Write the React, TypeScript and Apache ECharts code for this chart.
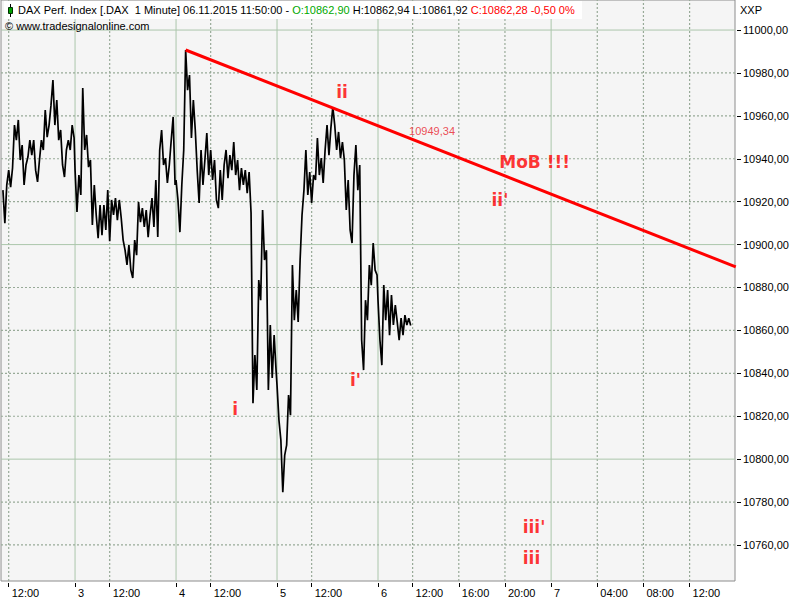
import React, { useEffect, useRef } from "react";
import * as echarts from "echarts";

// ---------- data ----------
// 10-minute samples of the 1-minute DAX trace (alternating swing extremes)
const nov2StartTime = "11:30";
const priceNov2 = [10925.4, 10910.0, 10927.8, 10934.7, 10926.8, 10935.7, 10955.7, 10948.7, 10958.1, 10939.4, 10946.4, 10927.8, 10937.1, 10940.8, 10948.7, 10941.7, 10948.7, 10934.7, 10929.2, 10939.4, 10948.7, 10944.1, 10962.7, 10950.1, 10955.7, 10965.0, 10976.7, 10955.7, 10967.4, 10948.7, 10953.4, 10937.1, 10931.5, 10944.1, 10948.7, 10944.1, 10955.7, 10949.7];
const priceNov3 = [10934.7, 10915.2, 10932.4, 10923.1, 10973.0, 10944.1, 10951.1, 10936.1, 10939.4, 10909.1, 10927.8, 10913.8, 10903.0, 10918.4, 10904.4, 10918.4, 10906.8, 10925.4, 10901.6, 10920.8, 10913.8, 10921.7, 10911.4, 10920.8, 10912.4, 10902.1, 10897.4, 10890.5, 10899.8, 10888.1, 10884.4, 10902.1, 10895.1, 10919.8, 10910.5, 10917.0, 10908.2, 10916.1, 10903.5, 10913.8, 10921.7, 10908.2, 10930.1, 10903.5, 10944.1, 10953.4, 10937.1, 10940.3, 10928.7, 10937.1, 10948.7, 10959.5, 10927.8];
const priceNov4 = [10930.1, 10920.8, 10905.8, 10927.8, 10944.1, 10990.7, 10972.0, 10979.0, 10949.7, 10967.4, 10953.4, 10934.7, 10919.4, 10944.1, 10927.8, 10939.4, 10952.0, 10932.4, 10944.1, 10930.1, 10939.4, 10920.8, 10917.0, 10934.7, 10920.8, 10937.1, 10944.1, 10931.0, 10941.7, 10934.7, 10947.8, 10932.4, 10939.4, 10925.4, 10935.7, 10927.8, 10934.7, 10924.0, 10933.8, 10914.7, 10826.1, 10848.5, 10832.2, 10883.5, 10874.1, 10916.1, 10892.8, 10897.4, 10832.2, 10862.5, 10837.8, 10857.8, 10841.5];
const priceNov5 = [10834.5, 10818.2, 10808.9, 10784.6, 10801.9, 10806.5, 10829.9, 10820.5, 10890.5, 10864.8, 10878.8, 10863.9, 10892.8, 10913.8, 10925.4, 10944.1, 10923.1, 10933.8, 10919.4, 10932.4, 10930.1, 10949.7, 10932.4, 10940.3, 10928.7, 10944.1, 10955.7, 10941.7, 10954.3, 10964.1, 10955.7, 10944.1, 10952.5, 10940.3, 10947.8, 10939.4, 10916.1, 10930.1, 10906.8, 10900.7, 10932.4, 10946.4, 10925.4, 10937.1, 10855.5, 10841.5, 10874.1, 10864.8, 10890.5, 10881.1, 10900.7, 10888.1, 10885.8];
const priceNov6 = [10874.1, 10855.5, 10843.8, 10881.1, 10864.8, 10878.8, 10857.8, 10876.5, 10862.5, 10871.8, 10863.9, 10855.5, 10865.7, 10857.8, 10867.1, 10862.5, 10865.7, 10862.3];

// trend line (start at the Nov 4 high, extended to the right edge)
const trendPoints = [
  { day: 4, time: "09:50", price: 10990.7 },
  { day: 7, time: "16:00", price: 10889.6 },
];
const trendValueLabel = { day: 6, time: "13:41", price: 10952.9, text: "10949,34" };

const annotations = [
  { day: 5, time: "14:38", price: 10971.3, text: "ii" },
  { day: 4, time: "14:07", price: 10823.6, text: "i" },
  { day: 5, time: "15:48", price: 10836.9, text: "i'" },
  { day: 6, time: "19:34", price: 10921.0, text: "ii'" },
  { day: 6, time: "22:34", price: 10938.3, text: "MoB !!!" },
  { day: 6, time: "22:31", price: 10768.2, text: "iii'" },
  { day: 6, time: "22:18", price: 10753.7, text: "iii" },
];

const xTicks = [
  { day: 2, time: "12:00", label: "12:00" },
  { day: 3, time: "09:00", label: "3" },
  { day: 3, time: "12:00", label: "12:00" },
  { day: 4, time: "09:00", label: "4" },
  { day: 4, time: "12:00", label: "12:00" },
  { day: 5, time: "09:00", label: "5" },
  { day: 5, time: "12:00", label: "12:00" },
  { day: 6, time: "09:00", label: "6" },
  { day: 6, time: "12:00", label: "12:00" },
  { day: 6, time: "16:00", label: "16:00" },
  { day: 6, time: "20:00", label: "20:00" },
  { day: 7, time: "00:00", label: "7" },
  { day: 7, time: "04:00", label: "04:00" },
  { day: 7, time: "08:00", label: "08:00" },
  { day: 7, time: "12:00", label: "12:00" },
];
const yTicks = [10760, 10780, 10800, 10820, 10840, 10860, 10880, 10900, 10920, 10940, 10960, 10980, 11000];
const ySolid = [10800, 10900, 11000];
const viewStart = { day: 2, time: "11:20" };
const viewEnd = { day: 7, time: "15:56" };
const yMin = 10743.2;
const yMax = 11014.0;

// ---------- time -> axis position (trading sessions 09:00-17:45 compressed, real time afterwards) ----------
function hrs(time: string) {
  const [h, m] = time.split(":").map(Number);
  return h + m / 60;
}
function toAxis(day: number, time: string) {
  const h = hrs(time);
  if (day >= 7) return 50 + h;
  return (day - 2) * 8.75 + (h - 9);
}

function buildPrice() {
  const pts: number[][] = [];
  const days: [number, number[], string][] = [
    [2, priceNov2, nov2StartTime],
    [3, priceNov3, "09:00"],
    [4, priceNov4, "09:00"],
    [5, priceNov5, "09:00"],
    [6, priceNov6, "09:00"],
  ];
  days.forEach(([d, arr, start]) => {
    const s = toAxis(d, start);
    arr.forEach((v, i) => pts.push([s + (i * 10) / 60, v]));
  });
  return pts;
}

const FONT = "'Liberation Sans', Arial, sans-serif";
const BOLD_FONT = "'DejaVu Sans', Verdana, sans-serif";

export default function App() {
  const ref = useRef<HTMLDivElement>(null);
  useEffect(() => {
    document.body.style.margin = "0";
    const chart = echarts.init(ref.current!, null, { renderer: "svg" });
    const xTickVals = xTicks.map((t) => toAxis(t.day, t.time));
    const xMin = toAxis(viewStart.day, viewStart.time);
    const xMax = toAxis(viewEnd.day, viewEnd.time);

    const solidStyle = { color: "#abc6ab", width: 1, type: "solid" };
    const dotStyle = { color: "#98aa98", width: 1.2, type: [2, 2] };

    const gridLineSeries: any[] = [];
    const addGridLine = (pts: number[][], style: any) =>
      gridLineSeries.push({
        type: "line",
        z: 1,
        silent: true,
        data: pts,
        showSymbol: false,
        lineStyle: style,
        emphasis: { disabled: true },
      });
    xTicks.forEach((t, i) =>
      addGridLine(
        [
          [xTickVals[i], yMin],
          [xTickVals[i], yMax],
        ],
        t.label.includes(":") ? dotStyle : solidStyle
      )
    );
    yTicks.forEach((v) =>
      addGridLine(
        [
          [xMin, v],
          [xMax, v],
        ],
        ySolid.includes(v) ? solidStyle : dotStyle
      )
    );

    const option: any = {
      animation: false,
      backgroundColor: "#ffffff",
      textStyle: { fontFamily: FONT },
      grid: {
        left: 1,
        right: 65,
        top: 0,
        bottom: 19,
        show: true,
        backgroundColor: "#f5f5f5",
        borderColor: "#8c8c8c",
        borderWidth: 1,
      },
      xAxis: {
        type: "value",
        min: xMin,
        max: xMax,
        offset: 2,
        axisLine: { show: false },
        splitLine: { show: false },
        axisTick: { show: true, length: 4, customValues: xTickVals, lineStyle: { color: "#000" } },
        axisLabel: {
          customValues: xTickVals,
          formatter: (v: number) => {
            const i = xTickVals.findIndex((x) => Math.abs(x - v) < 1e-6);
            return i >= 0 ? xTicks[i].label : "";
          },
          align: "left",
          padding: [0, 0, 0, 3],
          margin: 4,
          fontSize: 11,
          color: "#000",
          fontFamily: FONT,
          hideOverlap: false,
        },
      },
      yAxis: {
        type: "value",
        position: "right",
        min: yMin,
        max: yMax,
        offset: 2,
        axisLine: { show: false },
        splitLine: { show: false },
        axisTick: { show: true, length: 4, customValues: yTicks, lineStyle: { color: "#000" } },
        axisLabel: {
          customValues: yTicks,
          formatter: (v: number) => v.toFixed(2).replace(".", ","),
          margin: 6,
          fontSize: 11,
          color: "#000",
          fontFamily: FONT,
          hideOverlap: false,
        },
      },
      series: [
        ...gridLineSeries,
        {
          type: "line",
          z: 4,
          silent: true,
          data: buildPrice(),
          showSymbol: false,
          lineStyle: { color: "#000000", width: 1.7 },
        },
        {
          type: "line",
          z: 5,
          silent: true,
          data: trendPoints.map((p) => [toAxis(p.day, p.time), p.price]),
          showSymbol: false,
          lineStyle: { color: "#ff0000", width: 3 },
        },
        {
          type: "scatter",
          z: 6,
          silent: true,
          symbolSize: 0,
          data: [
            ...annotations.map((a) => ({
              value: [toAxis(a.day, a.time), a.price],
              name: a.text,
              label: { fontSize: 17, fontWeight: "bold", fontFamily: BOLD_FONT, color: "#ff0000" },
            })),
            {
              value: [toAxis(trendValueLabel.day, trendValueLabel.time), trendValueLabel.price],
              name: trendValueLabel.text,
              label: { fontSize: 11, fontWeight: "normal", fontFamily: FONT, color: "#e8202a" },
            },
          ],
          label: { show: true, position: "inside", formatter: (p: any) => p.name },
        },
      ],
      graphic: [
        { type: "rect", z: 10, shape: { x: 4, y: 1, width: 578, height: 18 }, style: { fill: "#ffffff" } },
        { type: "line", z: 11, shape: { x1: 10.5, y1: 4, x2: 10.5, y2: 17 }, style: { stroke: "#000", lineWidth: 1 } },
        { type: "rect", z: 12, shape: { x: 8.5, y: 7.5, width: 4, height: 6 }, style: { fill: "#00a000", stroke: "#003000", lineWidth: 1 } },
        {
          type: "text",
          z: 12,
          x: 18,
          y: 10,
          style: {
            text:
              "{k|DAX Perf. Index [.DAX  1 Minute] 06.11.2015 11:50:00 - }{g|O:10862,90 }{k|H:10862,94 L:10861,92 }{r|C:10862,28 -0,50 0%}",
            verticalAlign: "middle",
            font: "11px " + FONT,
            rich: {
              k: { fill: "#000000", fontSize: 11, fontFamily: FONT },
              g: { fill: "#00a800", fontSize: 11, fontFamily: FONT },
              r: { fill: "#ff0000", fontSize: 11, fontFamily: FONT },
            },
          },
        },
        {
          type: "text",
          z: 12,
          x: 5,
          y: 26,
          style: { text: "\u00a9 www.tradesignalonline.com", verticalAlign: "middle", fill: "#000", font: "11px " + FONT },
        },
        {
          type: "text",
          z: 12,
          x: 740,
          y: 10,
          style: { text: "XXP", verticalAlign: "middle", fill: "#000", font: "11px " + FONT },
        },
      ],
    };
    chart.setOption(option);
    return () => chart.dispose();
  }, []);
  return <div ref={ref} style={{ position: "absolute", left: 0, top: 0, width: 800, height: 600 }} />;
}
